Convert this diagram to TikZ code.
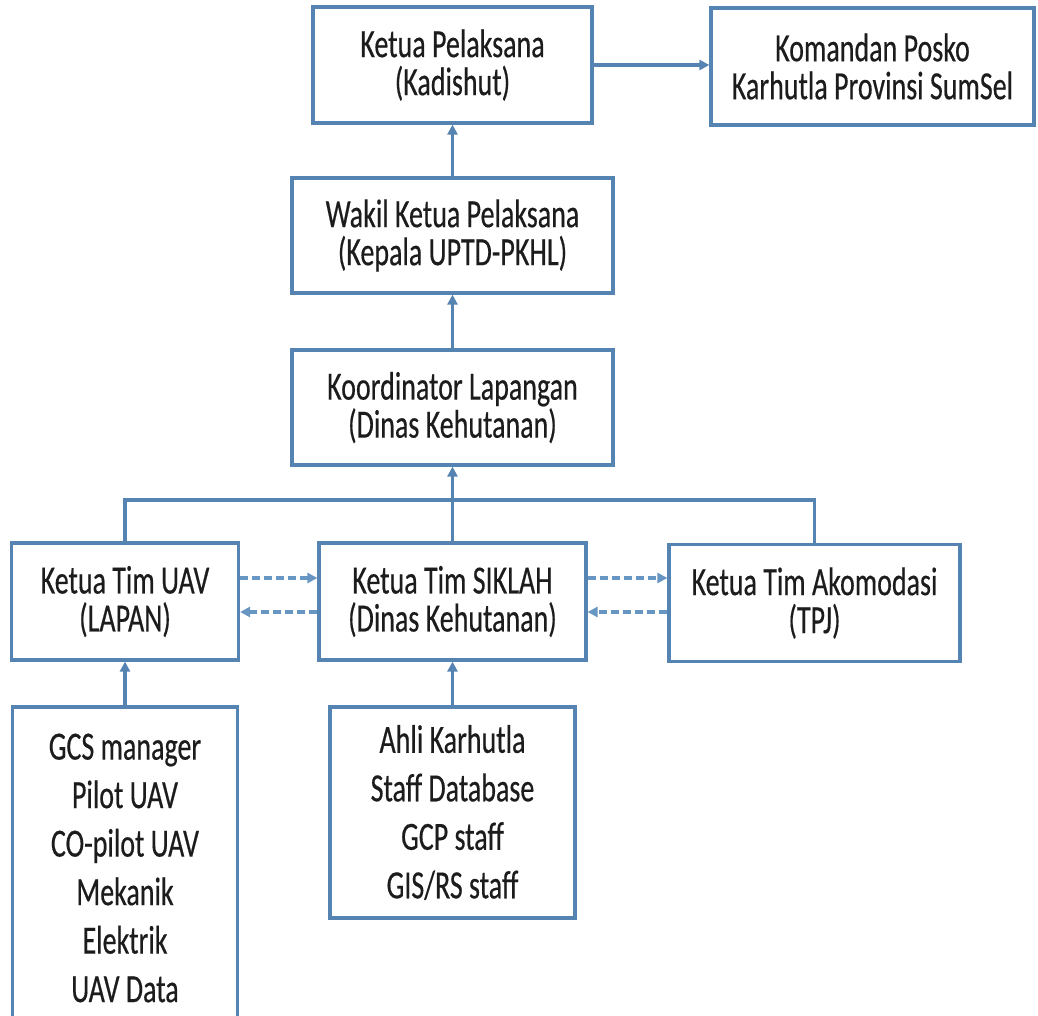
\documentclass[tikz,border=0pt]{standalone}
\usepackage{fontspec}
\setmainfont{Carlito}[FakeStretch=0.7,FakeBold=0.4]
\usepackage{tikz}
\usetikzlibrary{arrows.meta}
\definecolor{lineblue}{RGB}{86,132,178}
\definecolor{dashblue}{RGB}{104,150,194}
\definecolor{txt}{RGB}{28,28,28}

\begin{document}
\begin{tikzpicture}
[
x = 1pt, y = -1pt,
>={Triangle[length=10pt,width=10pt]},
box/.style = {draw = lineblue, line width = 3.2pt, inner sep = 0pt, align = center,
              text = txt, font = \fontsize{40}{38}\selectfont},
listbox/.style = {box, font = \fontsize{40}{48.5}\selectfont},
link/.style = {lineblue, line width = 3.2pt},
dlink/.style = {dashblue, line width = 3.2pt, dash pattern = on 8pt off 4pt},
]

\clip (0,0) rectangle (1038,1016);

\node (kp) at (452.5,65) [box, minimum width = 279, minimum height = 116] {Ketua Pelaksana\\(Kadishut)};
\node (kom) at (872.5,66.5) [box, minimum width = 323, minimum height = 117] {Komandan Posko\\Karhutla Provinsi SumSel};
\node (wk) at (452.5,235.5) [box, minimum width = 321, minimum height = 115] {Wakil Ketua Pelaksana\\(Kepala UPTD-PKHL)};
\node (ko) at (452.5,407.5) [box, minimum width = 321, minimum height = 115] {Koordinator Lapangan\\(Dinas Kehutanan)};

\node (uav) at (125,601.5) [box, minimum width = 227, minimum height = 117] {Ketua Tim UAV\\(LAPAN)};
\node (sik) at (452.5,601.5) [box, minimum width = 267, minimum height = 117] {Ketua Tim SIKLAH\\(Dinas Kehutanan)};
\node (ako) at (814.5,603) [box, minimum width = 291, minimum height = 117] {Ketua Tim Akomodasi\\(TPJ)};

\node (gcs) at (125,868) [listbox, minimum width = 225, minimum height = 322] {GCS manager\\Pilot UAV\\CO-pilot UAV\\Mekanik\\Elektrik\\UAV Data};
\node (ahli) at (452.5,812.5) [listbox, minimum width = 245, minimum height = 211] {Ahli Karhutla\\Staff Database\\GCP staff\\GIS/RS staff};

\coordinate (bus) at (452.5,500);

\draw[link,->] (kp.east) -- (kp.east -| kom.west);
\draw[link,->] (wk.north) -- (kp.south);
\draw[link,->] (ko.north) -- (wk.south);
\draw[link] (uav.north) |- (bus) -| (ako.north);
\draw[link,->] (sik.north) -- (ko.south);
\draw[link,->] (gcs.north) -- (uav.south);
\draw[link,->] (ahli.north) -- (sik.south);

% dashed links between the teams
\draw[dlink,->] ([yshift=23.5pt]uav.east) -- ([yshift=23.5pt]sik.west);
\draw[dlink,->] ([yshift=-10.5pt]sik.west) -- ([yshift=-10.5pt]uav.east);
\draw[dlink,->] ([yshift=23.5pt]sik.east) -- ([yshift=23.5pt]sik.east -| ako.west);
\draw[dlink,->] ([yshift=-10.5pt]sik.east -| ako.west) -- ([yshift=-10.5pt]sik.east);
\end{tikzpicture}
\end{document}
